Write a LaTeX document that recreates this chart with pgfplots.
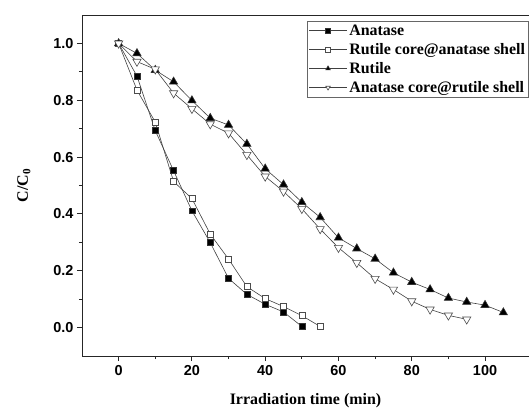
\documentclass[border=0pt]{standalone}
\usepackage{fontspec}
\setmainfont{Liberation Serif}
\setsansfont{Liberation Sans}
\usepackage{pgfplots}
\pgfplotsset{compat=1.18}

\begin{document}
\begin{tikzpicture}
\begin{axis}[
    scale only axis,
    width=447bp, height=341bp,
    xmin=-10, xmax=112,
    ymin=-0.1, ymax=1.1,
    xtick={0,20,40,60,80,100},
    ytick={0,0.2,0.4,0.6,0.8,1.0},
    minor x tick num=1,
    minor y tick num=1,
    tick pos=left,
    tick align=outside,
    major tick length=5bp,
    minor tick length=3bp,
    axis line style={line width=1pt, black!85},
    every tick/.style={line width=0.9pt, black!85},
    /pgf/number format/assume math mode=true,
    ticklabel style={font=\sffamily\bfseries\fontsize{14.5}{16}\selectfont},
    xticklabel style={yshift=-1bp},
    yticklabel style={/pgf/number format/fixed, /pgf/number format/fixed zerofill, /pgf/number format/precision=1},
    xlabel={\textbf{Irradiation time (min)}},
    ylabel={\textbf{C/C\textsubscript{0}}},
    label style={font=\fontsize{16}{18}\selectfont},
    xlabel style={yshift=-11bp},
    ylabel style={yshift=16bp},
    legend cell align=left,
    legend style={at={(0.503,0.983)}, anchor=north west, draw=black!60, line width=0.8pt,
        font=\bfseries\fontsize{16}{18}\selectfont, row sep=2.5bp, inner sep=1.5bp},
    legend image code/.code={\draw[mark repeat=2, mark phase=2, mark size=2.6pt, line width=0.6pt]
        plot coordinates {(0bp,0bp) (19bp,0bp) (38bp,0bp)};},
    every axis plot/.append style={line width=0.6pt, black!75},
]
\addplot[mark=square*, mark size=3pt, mark options={fill=black, draw=black!80, solid}] coordinates {
(0,1.0) (5,0.885) (10,0.693) (15,0.552) (20,0.411) (25,0.299) (30,0.173) (35,0.117) (40,0.082) (45,0.055) (50,0.004)};
\addlegendentry{Anatase}
\addplot[mark=square*, mark size=3pt, mark options={fill=white, draw=black!70, solid}] coordinates {
(0,1.0) (5,0.836) (10,0.723) (15,0.514) (20,0.454) (25,0.329) (30,0.241) (35,0.144) (40,0.102) (45,0.074) (50,0.042) (55,0.004)};
\addlegendentry{Rutile core@anatase shell}
\addplot[mark=triangle*, mark size=4.8pt, mark options={fill=black, draw=black!80, solid}] coordinates {
(0,1.0) (5,0.965) (10,0.906) (15,0.865) (20,0.799) (25,0.737) (30,0.713) (35,0.646) (40,0.559) (45,0.503) (50,0.441) (55,0.388) (60,0.316) (65,0.278) (70,0.242) (75,0.193) (80,0.160) (85,0.134) (90,0.104) (95,0.090) (100,0.079) (105,0.053)};
\addlegendentry{Rutile}
\addplot[mark=triangle*, mark size=4.8pt, mark options={fill=white, draw=black!70, rotate=180, solid}] coordinates {
(0,1.0) (5,0.936) (10,0.909) (15,0.825) (20,0.770) (25,0.716) (30,0.684) (35,0.608) (40,0.532) (45,0.479) (50,0.418) (55,0.347) (60,0.281) (65,0.228) (70,0.172) (75,0.134) (80,0.093) (85,0.064) (90,0.043) (95,0.029)};
\addlegendentry{Anatase core@rutile shell}
\end{axis}
\pgfresetboundingbox
\path[use as bounding box] ([xshift=-82bp,yshift=-52bp]current axis.south west) rectangle ([yshift=15bp]current axis.north east);
\end{tikzpicture}
\end{document}
